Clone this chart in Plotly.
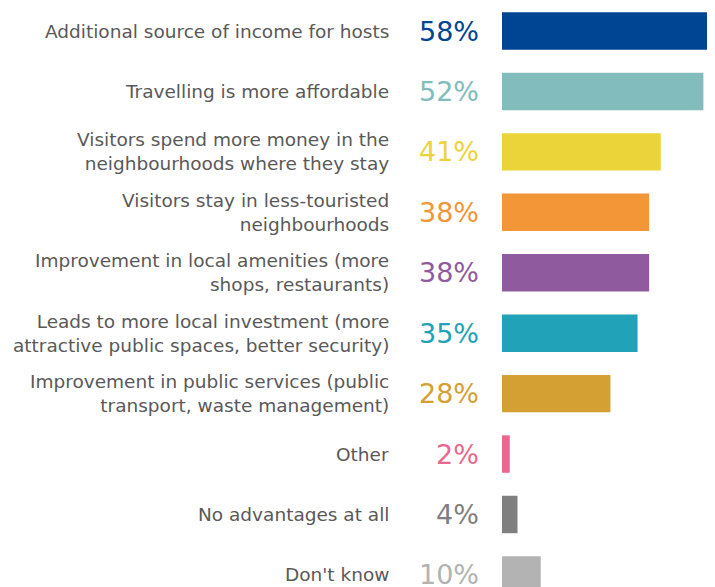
import plotly.graph_objects as go

categories = [
    "Additional source of income for hosts",
    "Travelling is more affordable",
    "Visitors spend more money in the<br>neighbourhoods where they stay",
    "Visitors stay in less-touristed<br>neighbourhoods",
    "Improvement in local amenities (more<br>shops, restaurants)",
    "Leads to more local investment (more<br>attractive public spaces, better security)",
    "Improvement in public services (public<br>transport, waste management)",
    "Other",
    "No advantages at all",
    "Don't know",
]
values = [58, 52, 41, 38, 38, 35, 28, 2, 4, 10]
colors = ["#004494", "#82bcbc", "#ebd43a", "#f29637", "#905b9e",
          "#22a2b8", "#d5a033", "#e8698f", "#7f7f7f", "#b3b3b3"]

idx = list(range(len(categories)))

fig = go.Figure(go.Bar(
    y=idx, x=values, orientation="h",
    marker=dict(color=colors, line=dict(width=0)),
    width=0.62, hoverinfo="skip",
))

for i, (c, v, col) in enumerate(zip(categories, values, colors)):
    fig.add_annotation(x=0, xref="paper", y=i, yref="y", text=c,
                       xanchor="right", yanchor="middle", align="right",
                       xshift=-111, showarrow=False,
                       font=dict(family="DejaVu Sans", size=18.5, color="#595959"))
    fig.add_annotation(x=0, xref="paper", y=i, yref="y", text=f"{v}%",
                       xanchor="right", yanchor="middle", align="right",
                       xshift=-21, showarrow=False,
                       font=dict(family="DejaVu Sans", size=27, color=col))

fig.update_layout(
    width=707, height=579,
    margin=dict(l=494, r=0, t=0, b=0),
    plot_bgcolor="white", paper_bgcolor="white",
    showlegend=False,
    xaxis=dict(range=[0, 55.0], visible=False, fixedrange=True),
    yaxis=dict(range=[9.2, -0.381], visible=False, fixedrange=True),
)

fig.write_html("out.html")
